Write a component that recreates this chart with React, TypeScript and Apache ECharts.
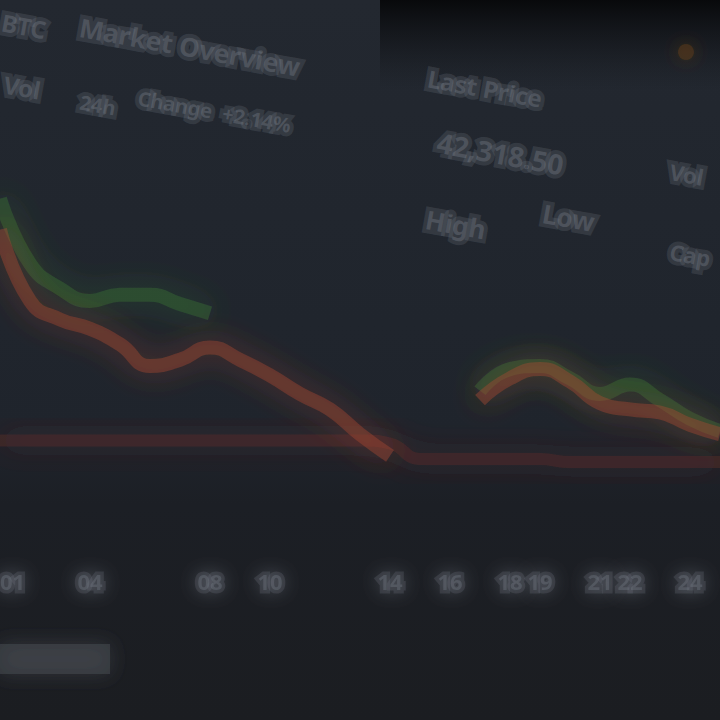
import React, { useEffect, useRef } from "react";
import * as echarts from "echarts";

const categories = [
  "01", "02", "03", "04", "05", "06", "07", "08", "09", "10", "11", "12", "13",
  "14", "15", "16", "17", "18", "19", "20", "21", "22", "23", "24", "25",
];
const labelIndices = [0, 3, 7, 9, 13, 15, 17, 18, 20, 21, 23];

const redSeries = [84, 61, 55, 52, 47, 40, 42, 46, 42, 37, 31, 26, 18, 11, null, null, 29, 36, 39, 35, 28, 26, 25, 21, 18];
const greenSeries = [94, 73, 65, 61, 63, 63, 60, 57, null, null, null, null, null, null, null, null, 32, 39, 40, 36, 31, 34, 29, 23, 19];
const baseSeries = [16, 16, 16, 16, 16, 16, 16, 16, 16, 16, 16, 16, 16, 15, 10, 10, 10, 10, 10, 9, 9, 9, 9, 9, 9];

const headerTexts = [
  { text: "BTC", x: 4, y: 10, size: 24 },
  { text: "Market Overview", x: 82, y: 14, size: 26 },
  { text: "Vol", x: 6, y: 72, size: 24 },
  { text: "24h", x: 82, y: 92, size: 20 },
  { text: "Change  +2.14%", x: 140, y: 88, size: 20 },
  { text: "Last Price", x: 430, y: 66, size: 24 },
  { text: "42,318.50", x: 440, y: 128, size: 28 },
  { text: "High", x: 428, y: 206, size: 26 },
  { text: "Low", x: 545, y: 200, size: 26 },
  { text: "Vol", x: 672, y: 160, size: 22 },
  { text: "Cap", x: 672, y: 240, size: 22 },
];

export default function App() {
  const ref = useRef<HTMLDivElement>(null);

  useEffect(() => {
    if (!ref.current) return;
    const chart = echarts.init(ref.current, undefined, { renderer: "svg" });

    const textEls = headerTexts.map((t) => ({
      type: "text",
      x: t.x,
      y: t.y,
      rotation: -0.18,
      style: {
        text: t.text,
        fill: "rgba(120,126,136,0.38)",
        font: `bold ${t.size}px "Noto Sans"`,
        stroke: "rgba(120,126,136,0.22)",
        lineWidth: 8,
        shadowBlur: 22,
        shadowColor: "rgba(130,136,146,1)",
      },
      z: 5,
    }));

    const lineStyle = (color: string, width: number, opacity: number) => ({
      color,
      width,
      opacity,
      shadowBlur: 30,
      shadowColor: color,
    });

    chart.setOption({
      animation: false,
      backgroundColor: "#1f242c",
      graphic: [
        {
          type: "rect",
          shape: { x: 0, y: 0, width: 720, height: 720 },
          style: {
            fill: new echarts.graphic.LinearGradient(0, 0, 0, 1, [
              { offset: 0, color: "#232830" },
              { offset: 0.6, color: "#1f242c" },
              { offset: 0.7, color: "#1c1f25" },
              { offset: 1, color: "#1b1d21" },
            ]),
          },
          z: -10,
        },
        {
          type: "rect",
          shape: { x: 380, y: 0, width: 340, height: 90 },
          style: {
            fill: new echarts.graphic.LinearGradient(0, 0, 0, 1, [
              { offset: 0, color: "#08090b" },
              { offset: 1, color: "rgba(20,23,28,0)" },
            ]),
          },
          z: -9,
        },
        {
          type: "rect",
          shape: { x: 0, y: 644, width: 110, height: 30 },
          style: {
            fill: "rgba(70,74,80,0.55)",
            shadowBlur: 20,
            shadowColor: "rgba(70,74,80,1)",
          },
          z: -5,
        },
        {
          type: "circle",
          shape: { cx: 686, cy: 52, r: 8 },
          style: {
            fill: "rgba(110,65,20,0.4)",
            shadowBlur: 18,
            shadowColor: "rgba(140,80,20,0.9)",
          },
        },
        ...textEls,
      ],
      grid: {
        left: 0,
        right: 0,
        top: 180,
        bottom: 230,
        containLabel: false,
        outerBoundsMode: "none",
      },
      xAxis: {
        type: "category",
        data: categories,
        boundaryGap: false,
        axisLine: { show: false },
        axisTick: { show: false },
        splitLine: { show: false },
        axisLabel: {
          margin: 80,
          alignMinLabel: "left",
          interval: (i: number) => labelIndices.includes(i),
          color: "rgba(110,116,126,0.42)",
          fontSize: 22,
          fontWeight: "bold",
          fontFamily: "Noto Sans",
          textBorderColor: "rgba(110,116,126,0.25)",
          textBorderWidth: 7,
          textShadowBlur: 18,
          textShadowColor: "rgba(120,126,136,1)",
        },
      },
      yAxis: {
        type: "value",
        min: 0,
        max: 100,
        show: false,
      },
      series: [
        {
          type: "line",
          data: baseSeries,
          smooth: true,
          showSymbol: false,
          lineStyle: lineStyle("#5e2a29", 12, 0.42),
        },
        {
          type: "line",
          data: greenSeries,
          smooth: true,
          showSymbol: false,
          connectNulls: false,
          lineStyle: lineStyle("#3a7a36", 14, 0.38),
        },
        {
          type: "line",
          data: redSeries,
          smooth: true,
          showSymbol: false,
          connectNulls: false,
          lineStyle: lineStyle("#a8492f", 14, 0.42),
        },
      ],
    });

    return () => chart.dispose();
  }, []);

  return (
    <div
      ref={ref}
      style={{ position: "fixed", left: 0, top: 0, width: 720, height: 720 }}
    />
  );
}
